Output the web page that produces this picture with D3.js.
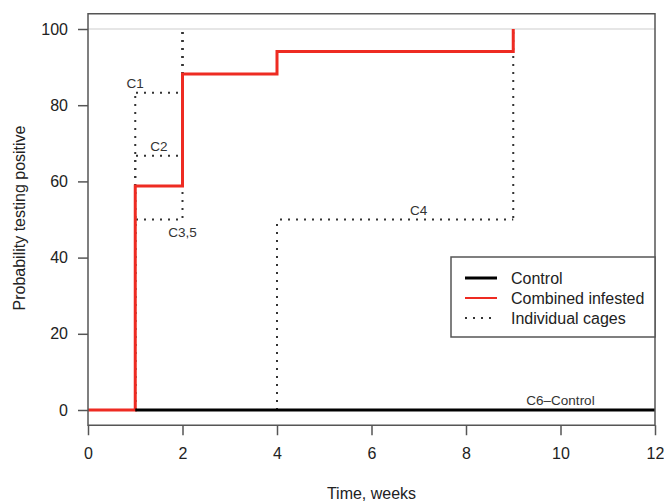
<!DOCTYPE html>
<html>
<head>
    <title>Probability testing positive</title>
    <script src="https://d3js.org/d3.v7.min.js"></script>
    <style>
        body { margin: 0; background: #fff; }
        text { font-family: "Liberation Sans", Arial, sans-serif; fill: #222; }
    </style>
</head>
<body>
<script>
// data
var xTicks = [0, 2, 4, 6, 8, 10, 12];
var yTicks = [0, 20, 40, 60, 80, 100];

var combinedTimes = [0, 1, 2, 4, 9];
var combinedValues = [0, 58.8, 88.2, 94.1, 100];

var controlTimes = [1, 12];
var controlValues = [0, 0];

var cageNames = ["C1", "C2", "C3,5", "C4", "C6\u2013Control"];
var cageTimes = [[0, 1, 2], [0, 1, 2], [0, 1, 2], [0, 4, 9], [0, 12]];
var cageValues = [[0, 83.3, 100], [0, 66.7, 100], [0, 50, 100], [0, 50, 100], [0, 0]];
// where each cage label sits (time, value, above/below)
var labelTimes = [1, 1.5, 2, 7, 10];
var labelValues = [83.3, 66.7, 50, 50, 0];
var labelBelow = [false, false, true, false, false];

var legendNames = ["Control", "Combined infested", "Individual cages"];

var red = "#ee2b22";
var dots = "2,6";

var svg = d3.select("body").append("svg")
    .attr("width", 664)
    .attr("height", 502);

var x = d3.scaleLinear().domain([0, 12]).range([88, 655]);
var y = d3.scaleLinear().domain([0, 100]).range([410, 29]);

var line = d3.line()
    .x(function(d) { return x(d[0]); })
    .y(function(d) { return y(d[1]); })
    .curve(d3.curveStepAfter);

function pairs(ts, vs) {
    return ts.map(function(t, i) { return [t, vs[i]]; });
}

// reference line at 100
svg.append("line")
    .attr("x1", x(0)).attr("x2", x(12))
    .attr("y1", y(100)).attr("y2", y(100))
    .attr("stroke", "#e6e6e6")
    .attr("stroke-width", 2);

// individual cages: split into step segments so overlapping dots line up
var segs = [];
cageTimes.forEach(function(ts, c) {
    var vs = cageValues[c];
    for (var i = 0; i < ts.length - 1; i++) {
        segs.push({x1: x(ts[i]), x2: x(ts[i + 1]), y1: y(vs[i]), y2: y(vs[i])});
        if (vs[i + 1] !== vs[i]) {
            var a = y(vs[i]), b = y(vs[i + 1]);
            segs.push({x1: x(ts[i + 1]), x2: x(ts[i + 1]), y1: Math.min(a, b), y2: Math.max(a, b)});
        }
    }
});

svg.selectAll(".cage")
    .data(segs)
    .enter().append("line")
      .attr("class", "cage")
      .attr("x1", function(d) { return d.x1; })
      .attr("x2", function(d) { return d.x2; })
      .attr("y1", function(d) { return d.y1; })
      .attr("y2", function(d) { return d.y2; })
      .attr("stroke", "#333")
      .attr("stroke-width", 2)
      .attr("stroke-dasharray", dots)
      .attr("stroke-dashoffset", function(d) { return d.x1 === d.x2 ? d.y1 : d.x1; });

svg.selectAll(".cage-label")
    .data(cageNames)
    .enter().append("text")
      .attr("class", "cage-label")
      .attr("x", function(d, i) { return x(labelTimes[i]); })
      .attr("y", function(d, i) { return y(labelValues[i]) + (labelBelow[i] ? 17 : -5); })
      .attr("text-anchor", "middle")
      .style("font-size", "13.5px")
      .style("fill", "#333")
      .text(function(d) { return d; });

// combined infested
svg.append("path")
    .attr("d", line(pairs(combinedTimes, combinedValues)))
    .attr("fill", "none")
    .attr("stroke", red)
    .attr("stroke-width", 3);

// control
svg.append("path")
    .attr("d", line(pairs(controlTimes, controlValues)))
    .attr("fill", "none")
    .attr("stroke", "#000")
    .attr("stroke-width", 3);

// box
svg.append("rect")
    .attr("x", x(0)).attr("y", y(104))
    .attr("width", x(12) - x(0))
    .attr("height", y(-4) - y(104))
    .attr("fill", "none")
    .attr("stroke", "#555")
    .attr("stroke-width", 1.5);

// axes
var yAxis = svg.append("g")
    .attr("transform", "translate(" + x(0) + ",0)")
    .call(d3.axisLeft(y).tickValues(yTicks).tickSize(10).tickPadding(10));
var xAxis = svg.append("g")
    .attr("transform", "translate(0," + y(-4) + ")")
    .call(d3.axisBottom(x).tickValues(xTicks).tickSize(10).tickPadding(12));

[yAxis, xAxis].forEach(function(a) {
    a.select(".domain").remove();
    a.selectAll(".tick line").attr("stroke", "#555").attr("stroke-width", 1.5);
    a.selectAll(".tick text")
        .style("font-size", "16px")
        .style("font-family", "'Liberation Sans', Arial, sans-serif")
        .attr("fill", "#222");
});

svg.append("text")
    .attr("x", (x(0) + x(12)) / 2)
    .attr("y", 499)
    .attr("text-anchor", "middle")
    .style("font-size", "16px")
    .text("Time, weeks");

svg.append("text")
    .attr("transform", "translate(25,218) rotate(-90)")
    .attr("text-anchor", "middle")
    .style("font-size", "16px")
    .text("Probability testing positive");

// legend
var legend = svg.append("g").attr("transform", "translate(451,257)");
legend.append("rect")
    .attr("width", 204).attr("height", 80)
    .attr("fill", "#fff")
    .attr("stroke", "#555")
    .attr("stroke-width", 1.5);

var item = legend.selectAll(".item")
    .data(legendNames)
    .enter().append("g")
      .attr("class", "item")
      .attr("transform", function(d, i) { return "translate(0," + (21 + i * 20) + ")"; });

item.append("line")
    .attr("x1", 14).attr("x2", 46)
    .attr("stroke", function(d, i) { return i === 0 ? "#000" : i === 1 ? red : "#333"; })
    .attr("stroke-width", function(d, i) { return i === 0 ? 3 : 2; })
    .attr("stroke-dasharray", function(d, i) { return i === 2 ? dots : null; });

item.append("text")
    .attr("x", 60)
    .attr("dy", "0.35em")
    .style("font-size", "16px")
    .text(function(d) { return d; });
</script>
</body>
</html>
